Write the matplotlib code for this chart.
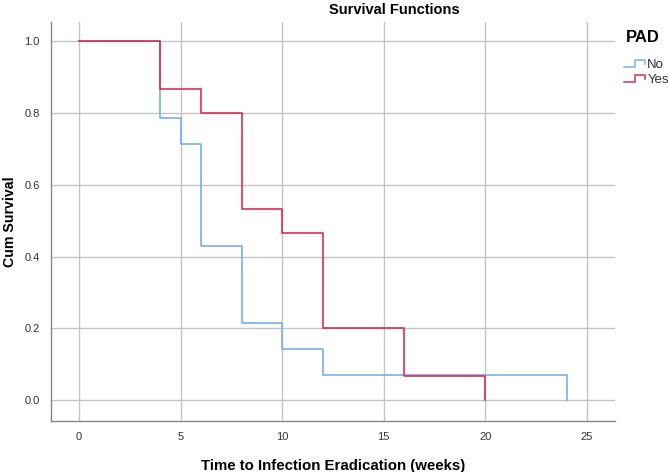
import matplotlib
matplotlib.use("Agg")
import matplotlib.pyplot as plt
from matplotlib.lines import Line2D
from matplotlib.legend_handler import HandlerBase

plt.rcParams["font.family"] = ["Liberation Sans", "DejaVu Sans"]

# Kaplan-Meier step estimates
no_time = [0, 4, 5, 6, 8, 10, 12, 24]
no_surv = [1.0, 0.786, 0.714, 0.429, 0.214, 0.143, 0.071, 0.0]
yes_time = [0, 4, 6, 8, 10, 12, 16, 20]
yes_surv = [1.0, 0.867, 0.8, 0.533, 0.467, 0.2, 0.067, 0.0]

x_ticks = [0, 5, 10, 15, 20, 25]
y_ticks = [0.0, 0.2, 0.4, 0.6, 0.8, 1.0]

BLUE = "#78aef0"
RED = "#dc2f52"
GRID = "#c4c4c4"


class StepHandler(HandlerBase):
    """Draws the small step-shaped swatch SPSS uses in its legend."""
    def create_artists(self, legend, orig_handle, xdescent, ydescent,
                       width, height, fontsize, trans):
        w, h = width, height
        xs = [0, 0.5 * w, 0.5 * w, 0.95 * w, 0.95 * w]
        ys = [0.05 * h, 0.05 * h, 0.85 * h, 0.85 * h, 0.4 * h]
        line = Line2D(xs, ys, color=orig_handle.get_color(), lw=1.1,
                      transform=trans)
        return [line]


fig = plt.figure(figsize=(6.69, 4.72), dpi=100)
ax = fig.add_axes([0.0757, 0.108, 0.844, 0.845])

ax.step(no_time, no_surv, where="post", color=BLUE, lw=1.2, zorder=3)
ax.step(yes_time, yes_surv, where="post", color=RED, lw=1.2, zorder=3)

ax.set_xlim(-1.4, 26.4)
ax.set_ylim(-0.058, 1.053)
ax.set_xticks(x_ticks)
ax.set_yticks(y_ticks)
ax.set_yticklabels([f"{v:.1f}" for v in y_ticks])
ax.grid(True, color=GRID, lw=1.0, zorder=0)
ax.tick_params(length=0, labelsize=8, colors="#333333", pad=8)

for side in ["top", "right"]:
    ax.spines[side].set_visible(False)
for side in ["left", "bottom"]:
    ax.spines[side].set_color("#888888")
    ax.spines[side].set_linewidth(1.0)

ax.set_xlabel("Time to Infection Eradication (weeks)", fontsize=10.8,
              fontweight="bold", labelpad=12)
ax.set_ylabel("Cum Survival", fontsize=10.2, fontweight="bold", labelpad=5)

fig.text(0.59, 0.978, "Survival Functions", ha="center", va="center",
         fontsize=10.5, fontweight="bold")

# legend: title drawn separately, indented like the SPSS output
fig.text(626 / 669, 1 - 37 / 472, "PAD", ha="left", va="center",
         fontsize=12, fontweight="bold")
h_no = Line2D([], [], color=BLUE)
h_yes = Line2D([], [], color=RED)
leg = fig.legend([h_no, h_yes], ["No", "Yes"],
                 handler_map={Line2D: StepHandler()},
                 loc="upper left", bbox_to_anchor=(617 / 669, 1 - 52 / 472),
                 frameon=False, fontsize=9.5, handlelength=1.7,
                 handletextpad=0.1, labelspacing=0.2, borderpad=0)
for t in leg.get_texts():
    t.set_color("#333333")

fig.savefig("out.png", dpi=100)
